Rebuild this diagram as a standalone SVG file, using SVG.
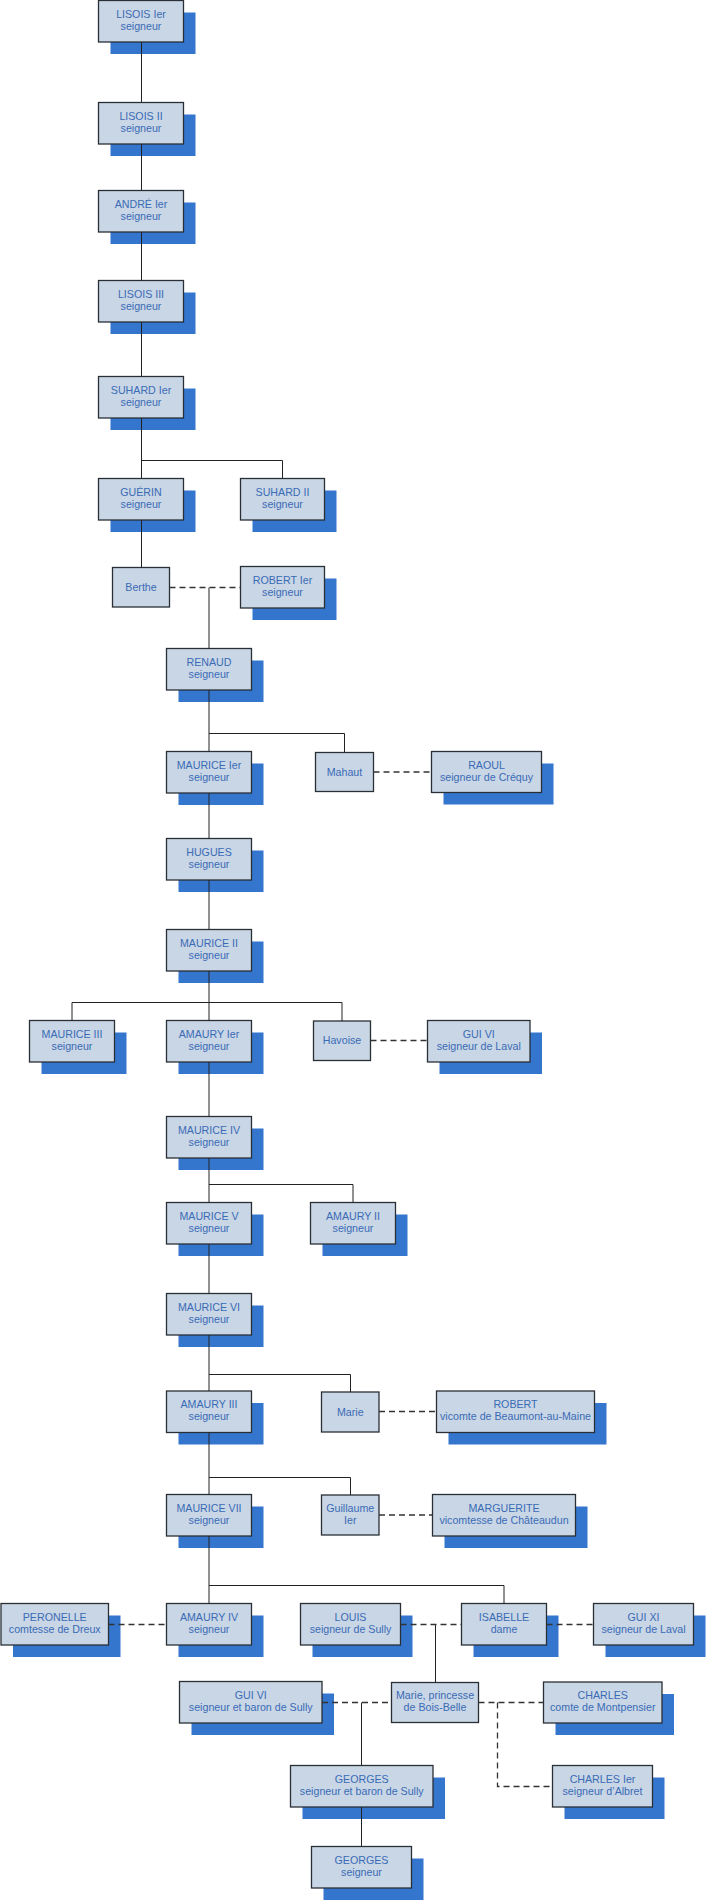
<svg xmlns="http://www.w3.org/2000/svg" width="706" height="1901" viewBox="0 0 706 1901">
<style>
.sh{fill:#3476ce}
.bx{fill:#c9d6e5;stroke:#2a2f36;stroke-width:1.3}
.t{font-family:"Liberation Sans",Arial,sans-serif;font-size:10.67px;fill:#3a6bb5;text-anchor:middle}
.ln{fill:none;stroke:#222;stroke-width:1}
.ds{fill:none;stroke:#333;stroke-width:1.3;stroke-dasharray:6 4}
</style>
<rect width="706" height="1901" fill="#fff"/>
<g id="nodes">
<g id="n01"><rect class="sh" x="110.5" y="12.5" width="85" height="41.5"/><rect class="bx" x="98.5" y="0.5" width="85" height="41.5"/><text class="t"><tspan x="141" y="17.75">LISOIS Ier</tspan><tspan x="141" y="29.75">seigneur</tspan></text></g>
<g id="n02"><rect class="sh" x="110.5" y="114.5" width="85" height="41.5"/><rect class="bx" x="98.5" y="102.5" width="85" height="41.5"/><text class="t"><tspan x="141" y="119.75">LISOIS II</tspan><tspan x="141" y="131.75">seigneur</tspan></text></g>
<g id="n03"><rect class="sh" x="110.5" y="202.5" width="85" height="41.5"/><rect class="bx" x="98.5" y="190.5" width="85" height="41.5"/><text class="t"><tspan x="141" y="207.75">ANDRÉ Ier</tspan><tspan x="141" y="219.75">seigneur</tspan></text></g>
<g id="n04"><rect class="sh" x="110.5" y="292.5" width="85" height="41.5"/><rect class="bx" x="98.5" y="280.5" width="85" height="41.5"/><text class="t"><tspan x="141" y="297.75">LISOIS III</tspan><tspan x="141" y="309.75">seigneur</tspan></text></g>
<g id="n05"><rect class="sh" x="110.5" y="388.5" width="85" height="41.5"/><rect class="bx" x="98.5" y="376.5" width="85" height="41.5"/><text class="t"><tspan x="141" y="393.75">SUHARD Ier</tspan><tspan x="141" y="405.75">seigneur</tspan></text></g>
<g id="n06"><rect class="sh" x="110.5" y="490.5" width="85" height="41.5"/><rect class="bx" x="98.5" y="478.5" width="85" height="41.5"/><text class="t"><tspan x="141" y="495.75">GUÉRIN</tspan><tspan x="141" y="507.75">seigneur</tspan></text></g>
<g id="n07"><rect class="sh" x="252.5" y="490.5" width="84" height="41.5"/><rect class="bx" x="240.5" y="478.5" width="84" height="41.5"/><text class="t"><tspan x="282.5" y="495.75">SUHARD II</tspan><tspan x="282.5" y="507.75">seigneur</tspan></text></g>
<g id="n08"><rect class="bx" x="112.5" y="567.5" width="57" height="39.5"/><text class="t" x="141" y="590.75">Berthe</text></g>
<g id="n09"><rect class="sh" x="252.5" y="578.5" width="84" height="41.5"/><rect class="bx" x="240.5" y="566.5" width="84" height="41.5"/><text class="t"><tspan x="282.5" y="583.75">ROBERT Ier</tspan><tspan x="282.5" y="595.75">seigneur</tspan></text></g>
<g id="n10"><rect class="sh" x="178.5" y="660.5" width="85" height="41.5"/><rect class="bx" x="166.5" y="648.5" width="85" height="41.5"/><text class="t"><tspan x="209" y="665.75">RENAUD</tspan><tspan x="209" y="677.75">seigneur</tspan></text></g>
<g id="n11"><rect class="sh" x="178.5" y="763.5" width="85" height="41.5"/><rect class="bx" x="166.5" y="751.5" width="85" height="41.5"/><text class="t"><tspan x="209" y="768.75">MAURICE Ier</tspan><tspan x="209" y="780.75">seigneur</tspan></text></g>
<g id="n12"><rect class="bx" x="315.5" y="752.5" width="58" height="39"/><text class="t" x="344.5" y="775.5">Mahaut</text></g>
<g id="n13"><rect class="sh" x="443.5" y="763.5" width="110" height="41"/><rect class="bx" x="431.5" y="751.5" width="110" height="41"/><text class="t"><tspan x="486.5" y="768.5">RAOUL</tspan><tspan x="486.5" y="780.5">seigneur de Créquy</tspan></text></g>
<g id="n14"><rect class="sh" x="178.5" y="850.5" width="85" height="41.5"/><rect class="bx" x="166.5" y="838.5" width="85" height="41.5"/><text class="t"><tspan x="209" y="855.75">HUGUES</tspan><tspan x="209" y="867.75">seigneur</tspan></text></g>
<g id="n15"><rect class="sh" x="178.5" y="941.5" width="85" height="41.5"/><rect class="bx" x="166.5" y="929.5" width="85" height="41.5"/><text class="t"><tspan x="209" y="946.75">MAURICE II</tspan><tspan x="209" y="958.75">seigneur</tspan></text></g>
<g id="n16"><rect class="sh" x="41.5" y="1032.5" width="85" height="41.5"/><rect class="bx" x="29.5" y="1020.5" width="85" height="41.5"/><text class="t"><tspan x="72" y="1037.75">MAURICE III</tspan><tspan x="72" y="1049.75">seigneur</tspan></text></g>
<g id="n17"><rect class="sh" x="178.5" y="1032.5" width="85" height="41.5"/><rect class="bx" x="166.5" y="1020.5" width="85" height="41.5"/><text class="t"><tspan x="209" y="1037.75">AMAURY Ier</tspan><tspan x="209" y="1049.75">seigneur</tspan></text></g>
<g id="n18"><rect class="bx" x="313.5" y="1021" width="57" height="39.5"/><text class="t" x="342" y="1044.25">Havoise</text></g>
<g id="n19"><rect class="sh" x="439.5" y="1032.5" width="102.5" height="41.5"/><rect class="bx" x="427.5" y="1020.5" width="102.5" height="41.5"/><text class="t"><tspan x="478.75" y="1037.75">GUI VI</tspan><tspan x="478.75" y="1049.75">seigneur de Laval</tspan></text></g>
<g id="n20"><rect class="sh" x="178.5" y="1128.5" width="85" height="41.5"/><rect class="bx" x="166.5" y="1116.5" width="85" height="41.5"/><text class="t"><tspan x="209" y="1133.75">MAURICE IV</tspan><tspan x="209" y="1145.75">seigneur</tspan></text></g>
<g id="n21"><rect class="sh" x="178.5" y="1214.5" width="85" height="41.5"/><rect class="bx" x="166.5" y="1202.5" width="85" height="41.5"/><text class="t"><tspan x="209" y="1219.75">MAURICE V</tspan><tspan x="209" y="1231.75">seigneur</tspan></text></g>
<g id="n22"><rect class="sh" x="322.5" y="1214.5" width="85" height="41.5"/><rect class="bx" x="310.5" y="1202.5" width="85" height="41.5"/><text class="t"><tspan x="353" y="1219.75">AMAURY II</tspan><tspan x="353" y="1231.75">seigneur</tspan></text></g>
<g id="n23"><rect class="sh" x="178.5" y="1305.5" width="85" height="41.5"/><rect class="bx" x="166.5" y="1293.5" width="85" height="41.5"/><text class="t"><tspan x="209" y="1310.75">MAURICE VI</tspan><tspan x="209" y="1322.75">seigneur</tspan></text></g>
<g id="n24"><rect class="sh" x="178.5" y="1403" width="85" height="41.5"/><rect class="bx" x="166.5" y="1391" width="85" height="41.5"/><text class="t"><tspan x="209" y="1408.25">AMAURY III</tspan><tspan x="209" y="1420.25">seigneur</tspan></text></g>
<g id="n25"><rect class="bx" x="321.5" y="1392" width="57.5" height="40"/><text class="t" x="350.25" y="1415.5">Marie</text></g>
<g id="n26"><rect class="sh" x="448.5" y="1403" width="158" height="41.5"/><rect class="bx" x="436.5" y="1391" width="158" height="41.5"/><text class="t"><tspan x="515.5" y="1408.25">ROBERT</tspan><tspan x="515.5" y="1420.25">vicomte de Beaumont-au-Maine</tspan></text></g>
<g id="n27"><rect class="sh" x="178.5" y="1506.5" width="85" height="41.5"/><rect class="bx" x="166.5" y="1494.5" width="85" height="41.5"/><text class="t"><tspan x="209" y="1511.75">MAURICE VII</tspan><tspan x="209" y="1523.75">seigneur</tspan></text></g>
<g id="n28"><rect class="bx" x="321.5" y="1495" width="57.5" height="40"/><text class="t"><tspan x="350.25" y="1511.5">Guillaume</tspan><tspan x="350.25" y="1523.5">Ier</tspan></text></g>
<g id="n29"><rect class="sh" x="444.5" y="1506.5" width="143" height="41.5"/><rect class="bx" x="432.5" y="1494.5" width="143" height="41.5"/><text class="t"><tspan x="504" y="1511.75">MARGUERITE</tspan><tspan x="504" y="1523.75">vicomtesse de Châteaudun</tspan></text></g>
<g id="n30"><rect class="sh" x="13" y="1615.5" width="107.5" height="41.5"/><rect class="bx" x="1" y="1603.5" width="107.5" height="41.5"/><text class="t"><tspan x="54.75" y="1620.75">PERONELLE</tspan><tspan x="54.75" y="1632.75">comtesse de Dreux</tspan></text></g>
<g id="n31"><rect class="sh" x="178.5" y="1615.5" width="85" height="41.5"/><rect class="bx" x="166.5" y="1603.5" width="85" height="41.5"/><text class="t"><tspan x="209" y="1620.75">AMAURY IV</tspan><tspan x="209" y="1632.75">seigneur</tspan></text></g>
<g id="n32"><rect class="sh" x="312.5" y="1615.5" width="100" height="41.5"/><rect class="bx" x="300.5" y="1603.5" width="100" height="41.5"/><text class="t"><tspan x="350.5" y="1620.75">LOUIS</tspan><tspan x="350.5" y="1632.75">seigneur de Sully</tspan></text></g>
<g id="n33"><rect class="sh" x="473.5" y="1615.5" width="85" height="41.5"/><rect class="bx" x="461.5" y="1603.5" width="85" height="41.5"/><text class="t"><tspan x="504" y="1620.75">ISABELLE</tspan><tspan x="504" y="1632.75">dame</tspan></text></g>
<g id="n34"><rect class="sh" x="605.5" y="1615.5" width="100" height="41.5"/><rect class="bx" x="593.5" y="1603.5" width="100" height="41.5"/><text class="t"><tspan x="643.5" y="1620.75">GUI XI</tspan><tspan x="643.5" y="1632.75">seigneur de Laval</tspan></text></g>
<g id="n35"><rect class="sh" x="191.5" y="1693.5" width="142.5" height="41.5"/><rect class="bx" x="179.5" y="1681.5" width="142.5" height="41.5"/><text class="t"><tspan x="250.75" y="1698.75">GUI VI</tspan><tspan x="250.75" y="1710.75">seigneur et baron de Sully</tspan></text></g>
<g id="n36"><rect class="bx" x="391.5" y="1682.5" width="87" height="40"/><text class="t"><tspan x="435" y="1699">Marie, princesse</tspan><tspan x="435" y="1711">de Bois-Belle</tspan></text></g>
<g id="n37"><rect class="sh" x="555.5" y="1694" width="118.5" height="41"/><rect class="bx" x="543.5" y="1682" width="118.5" height="41"/><text class="t"><tspan x="602.75" y="1699">CHARLES</tspan><tspan x="602.75" y="1711">comte de Montpensier</tspan></text></g>
<g id="n38"><rect class="sh" x="564.5" y="1777.5" width="100" height="41.5"/><rect class="bx" x="552.5" y="1765.5" width="100" height="41.5"/><text class="t"><tspan x="602.5" y="1782.75">CHARLES Ier</tspan><tspan x="602.5" y="1794.75">seigneur d’Albret</tspan></text></g>
<g id="n39"><rect class="sh" x="302.5" y="1777.5" width="142.5" height="41.5"/><rect class="bx" x="290.5" y="1765.5" width="142.5" height="41.5"/><text class="t"><tspan x="361.75" y="1782.75">GEORGES</tspan><tspan x="361.75" y="1794.75">seigneur et baron de Sully</tspan></text></g>
<g id="n40"><rect class="sh" x="323.5" y="1858.5" width="100" height="41.5"/><rect class="bx" x="311.5" y="1846.5" width="100" height="41.5"/><text class="t"><tspan x="361.5" y="1863.75">GEORGES</tspan><tspan x="361.5" y="1875.75">seigneur</tspan></text></g>
</g>
<g id="connectors">
<path class="ln" d="M141.5 42V102.5M141.5 144V190.5M141.5 232V280.5M141.5 322V376.5M141.5 418V478.5M141.5 460.5H282.5V478.5M141.5 520V567.5"/>
<path class="ln" d="M209 587.5V648.5M209 690V751.5M209 733.5H344.5V752.5M209 793V838.5M209 880V929.5M209 971V1020.5M72 1020.5V1002.5H342V1021"/>
<path class="ln" d="M209 1062V1116.5M209 1158V1202.5M209 1184.5H353V1202.5M209 1244V1293.5M209 1335V1391M209 1374.5H350.5V1392M209 1432.5V1494.5M209 1477.5H350.5V1495M209 1536V1603.5M209 1585.5H504V1603.5"/>
<path class="ln" d="M435.5 1624.5V1682.5M361.5 1702.5V1765.5M361.5 1807V1846.5"/>
<path class="ds" d="M169.5 587.5H240.5M373.5 772H431.5M370.5 1040.5H427.5M379 1411.5H436.5M379 1515H432.5M108.5 1624.5H166.5M400.5 1624.5H461.5M546.5 1624.5H593.5M322 1702.5H391.5M478.5 1702.5H543.5M497.5 1702.5V1786.5H552.5"/>
</g>
</svg>
